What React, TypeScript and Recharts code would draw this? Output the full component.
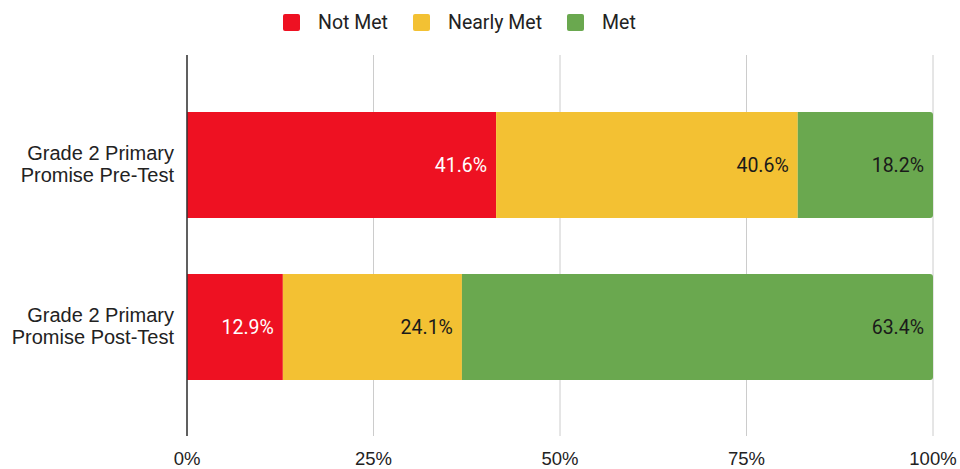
import React from "react";
import {
  BarChart,
  Bar,
  XAxis,
  YAxis,
  CartesianGrid,
  Legend,
  LabelList,
} from "recharts";

const categories = ["Grade 2 Primary Promise Pre-Test", "Grade 2 Primary Promise Post-Test"];
const categoryLines = [
  ["Grade 2 Primary", "Promise Pre-Test"],
  ["Grade 2 Primary", "Promise Post-Test"],
];
const notMet = [41.6, 12.9];
const nearlyMet = [40.6, 24.1];
const met = [18.2, 63.4];
const xTicks = [0, 0.25, 0.5, 0.75, 1];

const series = [
  { key: "notMet", name: "Not Met", color: "#ee1122", labelColor: "#ffffff" },
  { key: "nearlyMet", name: "Nearly Met", color: "#f3c133", labelColor: "#1a1a1a" },
  { key: "met", name: "Met", color: "#6aa84f", labelColor: "#1a1a1a" },
];

const data = categories.map((name, i) => ({
  name,
  notMet: notMet[i],
  nearlyMet: nearlyMet[i],
  met: met[i],
}));

const FONT = "Roboto, 'Noto Sans', sans-serif";
const AXIS_FONT = "'Liberation Sans', Arial, sans-serif";

// two-line category label, right aligned against the axis
function CategoryTick(props: any) {
  const { x, y, payload } = props;
  const idx = categories.indexOf(payload.value);
  const lines = categoryLines[idx] || [payload.value];
  return (
    <text x={x - 5} y={y} textAnchor="end" fill="#222" fontSize={20} fontFamily={AXIS_FONT}>
      {lines.map((l: string, i: number) => (
        <tspan key={i} x={x - 5} dy={i === 0 ? -5 : 22}>
          {l}
        </tspan>
      ))}
    </text>
  );
}

function LegendContent() {
  return (
    <div style={{ display: "flex", alignItems: "center", fontFamily: FONT, fontSize: 19.5, color: "#222" }}>
      {series.map((s) => (
        <div key={s.key} style={{ display: "flex", alignItems: "center", marginRight: 25 }}>
          <span
            style={{
              display: "inline-block",
              width: 17,
              height: 17,
              background: s.color,
              borderRadius: 2,
              marginRight: 18,
            }}
          />
          <span>{s.name}</span>
        </div>
      ))}
    </div>
  );
}

export default function App() {
  return (
    <div style={{ position: "absolute", top: 0, left: 0, background: "#fff" }}>
      <style>{"body{margin:0}"}</style>
      <BarChart
        width={960}
        height={469}
        data={data}
        layout="vertical"
        stackOffset="expand"
        margin={{ top: 55, right: 27, bottom: 0, left: 0 }}
      >
        <CartesianGrid horizontal={false} stroke="#cccccc" />
        <XAxis
          type="number"
          domain={[0, 1]}
          ticks={xTicks}
          tickFormatter={(v: number) => `${Math.round(v * 100)}%`}
          axisLine={false}
          tickLine={false}
          tickSize={0}
          tickMargin={16}
          height={33}
          tick={{ fill: "#222", fontSize: 18.5, fontFamily: AXIS_FONT }}
        />
        <YAxis
          type="category"
          dataKey="name"
          width={187}
          padding={{ top: 29, bottom: 28 }}
          axisLine={{ stroke: "#333", strokeWidth: 1.5 }}
          tickLine={false}
          tick={<CategoryTick />}
        />
        <Legend
          verticalAlign="middle"
          align="center"
          layout="horizontal"
          content={<LegendContent />}
          wrapperStyle={{ top: 11, left: 283, width: "auto" }}
        />
        {series.map((s, i) => (
          <Bar
            key={s.key}
            dataKey={s.key}
            name={s.name}
            stackId="a"
            fill={s.color}
            barSize={106}
            radius={i === series.length - 1 ? [0, 3, 3, 0] : 0}
            isAnimationActive={false}
          >
            <LabelList
              dataKey={s.key}
              position="insideRight"
              offset={9}
              formatter={(v: number) => `${v}%`}
              fill={s.labelColor}
              fontSize={19.5}
              fontFamily={FONT}
            />
          </Bar>
        ))}
      </BarChart>
    </div>
  );
}
